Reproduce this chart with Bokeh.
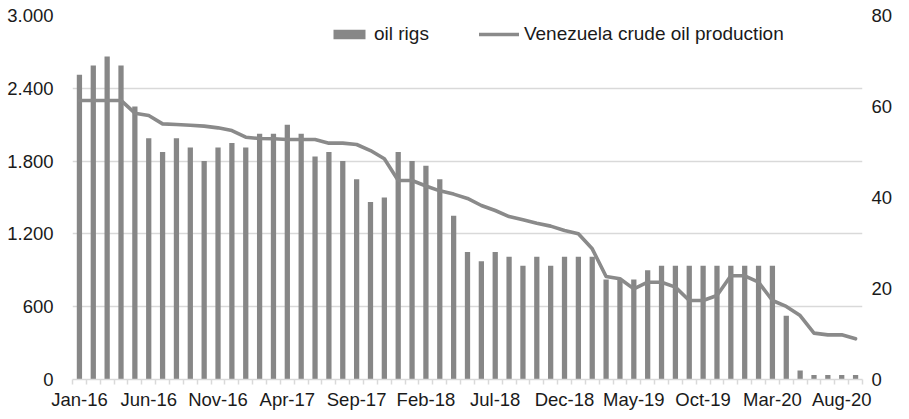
from bokeh.plotting import figure
from bokeh.models import Range1d, LinearAxis, FixedTicker, Legend, LegendItem
from bokeh.embed import file_html
from bokeh.resources import INLINE

years = ["16", "17", "18", "19", "20"]
month_names = ["Jan", "Feb", "Mar", "Apr", "May", "Jun", "Jul", "Aug", "Sep", "Oct", "Nov", "Dec"]
months = [f"{m}-{y}" for y in years for m in month_names][:57]  # Jan-16 .. Sep-20

oil_rigs = [67, 69, 71, 69, 60, 53, 50, 53, 51, 48, 51, 52,
            51, 54, 54, 56, 54, 49, 50, 48, 44, 39, 40, 50,
            48, 47, 44, 36, 28, 26, 28, 27, 25, 27, 25, 27,
            27, 27, 22, 22, 22, 24, 25, 25, 25, 25, 25, 25,
            25, 25, 25, 14, 2, 1, 1, 1, 1]

production = [2300, 2300, 2300, 2300, 2195, 2176, 2107, 2102, 2096, 2088, 2074, 2052,
              1997, 1986, 1984, 1978, 1978, 1978, 1948, 1948, 1937, 1887, 1819, 1640,
              1640, 1595, 1555, 1528, 1492, 1434, 1393, 1343, 1316, 1288, 1264, 1228,
              1201, 1077, 849, 830, 747, 802, 802, 761, 651, 651, 692, 855,
              855, 802, 651, 602, 527, 382, 368, 368, 335]

left_ticks = [0, 600, 1200, 1800, 2400, 3000]
left_labels = ["0", "600", "1.200", "1.800", "2.400", "3.000"]
right_ticks = [0, 20, 40, 60, 80]

idx = list(range(len(months)))
label_ticks = idx[::5]

FONT = "Liberation Sans"
FS = "18.5px"
TXT = "#1a1a1a"
GRID = "#d9d9d9"

p = figure(width=908, height=418, output_backend="svg", toolbar_location=None,
           x_range=Range1d(-0.5, len(months) - 0.5), y_range=Range1d(0, 3000),
           min_border_left=72, min_border_right=46, min_border_top=15, min_border_bottom=39)
p.outline_line_color = None
p.background_fill_color = "white"
p.border_fill_color = "white"

p.extra_y_ranges = {"rigs": Range1d(0, 80)}

bars = p.vbar(x=idx, top=oil_rigs, width=0.38, y_range_name="rigs",
              fill_color="#878787", line_color=None)
line = p.line(x=idx, y=production, line_color="#8a8a8a", line_width=3.6,
              line_join="round", line_cap="round")

# x axis
xa = p.xaxis[0]
xa.ticker = FixedTicker(ticks=label_ticks, minor_ticks=[i - 0.5 for i in range(len(months) + 1)])
xa.major_label_overrides = {i: months[i] for i in label_ticks}
xa.axis_line_color = GRID
xa.axis_line_width = 1.5
xa.major_tick_line_color = None
xa.major_tick_out = 0
xa.minor_tick_line_color = GRID
xa.minor_tick_line_width = 1.5
xa.minor_tick_out = 5
xa.minor_tick_in = 0
xa.major_label_standoff = 4
xa.major_label_text_font = FONT
xa.major_label_text_font_size = FS
xa.major_label_text_color = TXT

# left axis
ya = p.yaxis[0]
ya.ticker = FixedTicker(ticks=left_ticks)
ya.major_label_overrides = dict(zip(left_ticks, left_labels))
ya.axis_line_color = None
ya.major_tick_line_color = None
ya.minor_tick_line_color = None
ya.major_tick_out = 0
ya.major_label_standoff = 19
ya.major_label_text_font = FONT
ya.major_label_text_font_size = FS
ya.major_label_text_color = TXT

# right axis
ra = LinearAxis(y_range_name="rigs", ticker=FixedTicker(ticks=right_ticks))
ra.axis_line_color = None
ra.major_tick_line_color = None
ra.minor_tick_line_color = None
ra.major_tick_out = 0
ra.major_label_standoff = 9
ra.major_label_text_font = FONT
ra.major_label_text_font_size = FS
ra.major_label_text_color = TXT
p.add_layout(ra, "right")

p.xgrid.grid_line_color = None
p.ygrid.grid_line_color = GRID
p.ygrid.grid_line_width = 1.5

legend = Legend(items=[LegendItem(label="oil rigs", renderers=[bars]),
                       LegendItem(label="Venezuela crude oil production", renderers=[line])],
                orientation="horizontal", location=(257, 334),
                background_fill_alpha=0, border_line_color=None,
                padding=0, margin=0, spacing=50, label_standoff=5,
                glyph_width=40, glyph_height=12,
                label_text_font=FONT, label_text_font_size="19px", label_text_color=TXT)
p.add_layout(legend)

open("out.html", "w").write(file_html(p, INLINE))
